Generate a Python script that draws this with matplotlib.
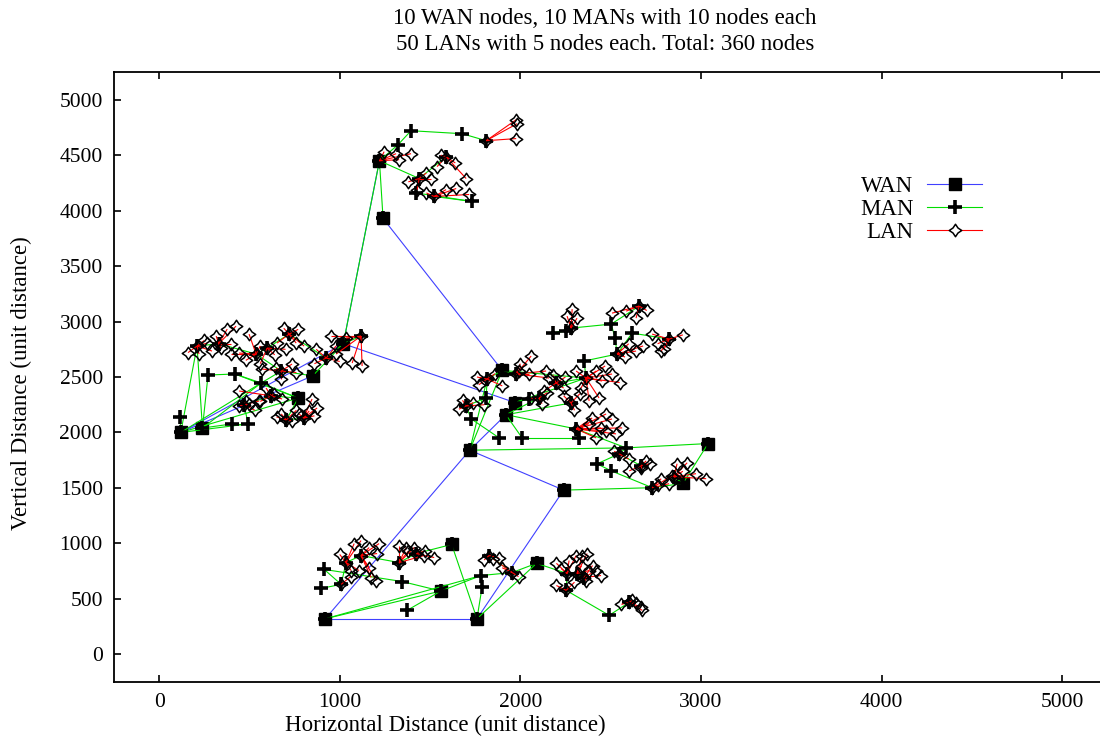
import matplotlib
matplotlib.use("Agg")
import matplotlib.pyplot as plt
from matplotlib.collections import LineCollection
from matplotlib.lines import Line2D
from matplotlib.path import Path

plt.rcParams["font.family"] = ["Liberation Serif", "DejaVu Serif"]

# -----------------------------
# WAN nodes (drawn as squares)
# -----------------------------
wan_ids = ["W0", "W1", "W2", "W3", "W4", "W5", "W6", "W7", "W8", "W9",
           "W10", "W11", "W12", "W13", "W14", "W15", "W16", "W17", "W18"]
wan_x = [120, 240, 850, 770, 1020, 1240, 1220, 1900, 1970, 1920,
         1720, 2240, 3040, 2900, 920, 1760, 1560, 1620, 2090]
wan_y = [2000, 2040, 2510, 2310, 2800, 3930, 4450, 2560, 2270, 2160,
         1840, 1480, 1900, 1540, 320, 320, 570, 990, 820]
wan_links = [("W0", "W2"), ("W0", "W4"), ("W4", "W6"), ("W4", "W8"), ("W5", "W7"),
             ("W9", "W10"), ("W10", "W14"), ("W10", "W11"), ("W11", "W15"),
             ("W14", "W15")]

# -----------------------------
# MAN nodes (drawn as plus)
# -----------------------------
man_ids = ["a1", "a2", "a3", "a4", "a5", "a6", "a7", "a8", "a9", "a10",
           "b1", "b2", "b3", "b4", "b5", "b6", "b7", "b8",
           "c1", "c2", "c3", "c4", "c5", "c6", "c7", "c8", "c9",
           "d1", "d2", "d3", "d4", "d5", "d6", "d7", "d8", "d9",
           "e1", "e2", "e3", "e4", "e5", "e6",
           "f1", "f2", "f3", "f4", "f5", "f6", "f7", "f8", "f9",
           "g1", "g2", "g3", "g4", "g5", "g6", "g7",
           "h1", "h2", "h3", "h4", "h5", "h6", "h7", "h8", "h9",
           "i1", "i2", "i3", "i4", "i5", "i6", "i7", "i8", "i9", "i10"]
man_x = [116, 271, 420, 404, 493, 565, 470, 705, 800, 620,
         210, 537, 598, 720, 676, 925, 1118, 330,
         1323, 1395, 1678, 1811, 1440, 1733, 1523, 1589, 1423,
         1700, 1811, 1816, 1728, 1883, 2010, 1977, 2104, 2049,
         2364, 2281, 2309, 2326, 2353, 2198,
         2182, 2254, 2503, 2525, 2536, 2658, 2619, 2824, 2281,
         2586, 2425, 2503, 2669, 2730, 2547, 2850,
         914, 897, 1008, 1035, 1118, 1345, 1329, 1373, 1423,
         1783, 1788, 1955, 2259, 2314, 2353, 2254, 2492, 2603, 1827]
man_y = [2140, 2518, 2527, 2077, 2077, 2446, 2250, 2113, 2130, 2330,
         2779, 2707, 2761, 2887, 2554, 2671, 2869, 2800,
         4595, 4721, 4694, 4631, 4290, 4083, 4128, 4487, 4160,
         2239, 2311, 2482, 2122, 1951, 1951, 2527, 2311, 2302,
         2491, 2266, 2032, 1951, 2644, 2446,
         2896, 2914, 2977, 2851, 2707, 3139, 2896, 2842, 2941,
         1861, 1717, 1654, 1699, 1502, 1807, 1600,
         765, 594, 630, 827, 890, 656, 827, 396, 908,
         710, 603, 737, 728, 728, 692, 576, 351, 468, 890]
man_links = [("a1", "W0"), ("W1", "a2"), ("W0", "b1"), ("W1", "b1"), ("a2", "a3"),
             ("a3", "W3"), ("a3", "a6"), ("W0", "a5"), ("W1", "a4"), ("a4", "a5"),
             ("a5", "a7"), ("W0", "W3"), ("W1", "a6"), ("a6", "W3"), ("a7", "a10"),
             ("a10", "W3"), ("W3", "a8"), ("a8", "a9"), ("W0", "a6"),
             ("b1", "b8"), ("b8", "b2"), ("b2", "b3"), ("b3", "b4"), ("b5", "W2"),
             ("b2", "b5"), ("W2", "W4"), ("b6", "W4"), ("b7", "W4"), ("b4", "b6"),
             ("a6", "b5"),
             ("W6", "c1"), ("c1", "c2"), ("c2", "c3"), ("c3", "c4"), ("W6", "c5"),
             ("c5", "c9"), ("c9", "c6"), ("c7", "c6"), ("c5", "c8"), ("W6", "W5"),
             ("W4", "W6"),
             ("W7", "e1"), ("W7", "d3"), ("d3", "d2"), ("d2", "d1"), ("d1", "d4"),
             ("d4", "d5"), ("d6", "e4"), ("W9", "e2"), ("W9", "e3"), ("W10", "d3"),
             ("W10", "W7"), ("W8", "e1"), ("W9", "d8"), ("d7", "W7"), ("e1", "e5"),
             ("e5", "f5"), ("f5", "f4"), ("f4", "f3"), ("f3", "f9"), ("f9", "f1"),
             ("f1", "f2"), ("f3", "f6"), ("f5", "f7"), ("f7", "f8"), ("e1", "e6"),
             ("e3", "e4"), ("W9", "d6"), ("d9", "W8"),
             ("W10", "g1"), ("g1", "W12"), ("W12", "W13"), ("W11", "g5"), ("g5", "W13"),
             ("g1", "g6"), ("g6", "g2"), ("g2", "g3"), ("g3", "g5"), ("g4", "g6"),
             ("W13", "g7"), ("e3", "g1"),
             ("W14", "W16"), ("W14", "i1"), ("h1", "h3"), ("h2", "h3"), ("h3", "h4"),
             ("h4", "h5"), ("h5", "h7"), ("h6", "W16"), ("h8", "W16"), ("W16", "i1"),
             ("W17", "h9"), ("W17", "W15"), ("h7", "h9"), ("W15", "W18"), ("i3", "W18"),
             ("i3", "i10"), ("i1", "i3"), ("i2", "i1"), ("W18", "i4"), ("i4", "i5"),
             ("i5", "i6"), ("i4", "i7"), ("i7", "i8"), ("i8", "i9"), ("W15", "i2"),
             ("h1", "h6")]

# ---------------------------------------
# LAN nodes (drawn as diamonds) and hubs
# ---------------------------------------
lan_x = [266, 221, 293, 160, 250,
         316, 377, 426, 343, 400,
         498, 443, 399, 480, 560,
         653, 759, 803, 690, 770,
         640, 560, 700,
         952, 1035, 1069, 1124, 980,
         870, 980, 1000, 860,
         570, 648, 736, 676, 760,
         592, 637, 443, 681, 560,
         443, 498, 482, 554, 530,
         676, 736, 650, 760,
         847, 875, 831, 775, 860,
         1246, 1329, 1395, 1312,
         1977, 1982, 1977,
         1539, 1700, 1640, 1560,
         1506, 1429, 1480, 1380,
         1589, 1717, 1645, 1480,
         1770, 1860, 1900, 1760,
         1680, 1740, 1800, 1660,
         2060, 1993, 2049, 2143, 2159, 2000,
         2132, 2250, 2180, 2240,
         2060, 2150, 2120,
         2420, 2508, 2453, 2436, 2381, 2337, 2309, 2470, 2550,
         2240, 2330, 2300,
         2398, 2475, 2508, 2564, 2530, 2420, 2447, 2475, 2380,
         2287, 2314, 2259,
         2508, 2586, 2641, 2700,
         2730, 2780, 2796, 2900, 2760,
         2641, 2564, 2600, 2680, 2580,
         2520, 2600,
         2697, 2603, 2669, 2720,
         2780, 2824, 2841, 2760,
         2868, 2924, 2973, 3029, 2900,
         1080, 1118, 1063, 1107, 1000,
         1163, 1218, 1207, 1163, 1202, 1174,
         1060,
         1329, 1368, 1412, 1467, 1380,
         1523, 1470,
         1900, 1850, 1990,
         1800, 1880,
         2226, 2270, 2309, 2200,
         2342, 2370, 2381, 2340,
         2420, 2447, 2364, 2400,
         2300, 2200,
         2560, 2619, 2669, 2675, 2640]
lan_y = [2806, 2707, 2734, 2720, 2830,
         2869, 2932, 2959, 2760, 2800,
         2887, 2716, 2707, 2650, 2780,
         2806, 2806, 2779, 2940, 2930,
         2700, 2620, 2750,
         2869, 2851, 2626, 2599, 2707,
         2750, 2780, 2640, 2620,
         2572, 2581, 2617, 2482, 2540,
         2401, 2347, 2374, 2302, 2280,
         2239, 2257, 2284, 2284, 2200,
         2167, 2104, 2140, 2200,
         2302, 2221, 2194, 2167, 2150,
         4532, 4460, 4514, 4514,
         4650, 4784, 4820,
         4397, 4290, 4430, 4500,
         4290, 4190, 4340, 4260,
         4190, 4146, 4200, 4160,
         2430, 2530, 2420, 2500,
         2290, 2270, 2250, 2210,
         2689, 2554, 2527, 2554, 2491, 2620,
         2374, 2500, 2520, 2400,
         2311, 2360, 2260,
         2554, 2527, 2464, 2311, 2284, 2401, 2554, 2600, 2450,
         2330, 2350, 2200,
         2131, 2167, 2122, 2041, 1987, 1951, 2041, 2014, 2080,
         3112, 3031, 3049,
         3076, 3094, 3031, 3100,
         2887, 2734, 2752, 2880, 2800,
         2734, 2752, 2800, 2780, 2680,
         1830, 1760,
         1744, 1654, 1681, 1720,
         1583, 1538, 1610, 1530,
         1718, 1727, 1628, 1583, 1650,
         998, 1025, 755, 755, 900,
         962, 998, 908, 782, 665, 692,
         700,
         980, 962, 962, 890, 930,
         872, 930,
         780, 860, 700,
         850, 870,
         773, 845, 890, 820,
         890, 908, 755, 800,
         755, 710, 665, 800,
         650, 620,
         450, 486, 423, 396, 460]
lan_hub = ["b1"] * 5 + ["b8"] * 5 + ["b2"] * 5 + ["b4"] * 5 + ["b3"] * 3 \
    + ["b7"] * 5 + ["b6"] * 4 + ["b5"] * 5 + ["a10"] * 5 + ["a7"] * 5 \
    + ["a8"] * 4 + ["a9"] * 5 \
    + ["W6"] * 4 + ["c4"] * 3 + ["c8"] * 4 + ["c5"] * 4 + ["c7"] * 4 \
    + ["d3"] * 4 + ["d1"] * 4 + ["d7"] * 6 + ["e6"] * 4 + ["d8"] * 3 \
    + ["e1"] * 9 + ["e2"] * 3 + ["e3"] * 9 + ["f9"] * 3 + ["f6"] * 4 \
    + ["f8"] * 5 + ["f5"] * 5 \
    + ["g6"] * 2 + ["g4"] * 4 + ["g5"] * 4 + ["g7"] * 5 \
    + ["h4"] * 5 + ["h5"] * 6 + ["h3"] * 1 + ["h7"] * 5 + ["h9"] * 2 \
    + ["i3"] * 3 + ["i10"] * 2 + ["i4"] * 4 + ["i5"] * 4 + ["i6"] * 4 \
    + ["i7"] * 2 + ["i9"] * 5

title_lines = ["10 WAN nodes, 10 MANs with 10 nodes each",
               "50 LANs with 5 nodes each. Total: 360 nodes"]

# ------
# STYLE
# ------
WAN_COLOR = "#4040ff"
MAN_COLOR = "#00dd00"
LAN_COLOR = "#ff0000"
diamond = Path([(0, 1), (0.4, 0.4), (1, 0), (0.4, -0.4), (0, -1),
                (-0.4, -0.4), (-1, 0), (-0.4, 0.4), (0, 1)],
               [Path.MOVETO] + [Path.LINETO] * 7 + [Path.CLOSEPOLY])

pos = {}
for n, x, y in zip(wan_ids, wan_x, wan_y):
    pos[n] = (x, y)
for n, x, y in zip(man_ids, man_x, man_y):
    pos[n] = (x, y)

fig = plt.figure(figsize=(11, 7.42), dpi=100)
ax = fig.add_axes([0.1036, 0.0809, 0.903, 0.822])

# WAN
ax.add_collection(LineCollection([[pos[a], pos[b]] for a, b in wan_links],
                                 colors=WAN_COLOR, linewidths=0.8, zorder=2))
ax.plot(wan_x, wan_y, ls="none", marker="s", ms=8.5, color="black", zorder=3)

# MAN
ax.add_collection(LineCollection([[pos[a], pos[b]] for a, b in man_links],
                                 colors=MAN_COLOR, linewidths=0.8, zorder=4))
man_pts = set(n for link in man_links for n in link)
ax.plot([pos[n][0] for n in man_pts], [pos[n][1] for n in man_pts],
        ls="none", marker="+", ms=10, mew=2.6, color="black", zorder=5)

# LAN
ax.add_collection(LineCollection([[(x, y), pos[h]] for x, y, h in zip(lan_x, lan_y, lan_hub)],
                                 colors=LAN_COLOR, linewidths=0.8, zorder=6))
hubs = sorted(set(lan_hub))
ax.plot(lan_x + [pos[h][0] for h in hubs], lan_y + [pos[h][1] for h in hubs],
        ls="none", marker=diamond, ms=9, mew=1.1, mfc="none", mec="black", zorder=7)

ax.set_xlim(-250, 5250)
ax.set_ylim(-250, 5250)
ax.set_xticks(range(0, 5001, 1000))
ax.set_yticks(range(0, 5001, 500))
ax.tick_params(direction="in", length=5, width=1.2, labelsize=15.5,
               top=True, right=True)
ax.tick_params(axis="y", pad=8)
ax.tick_params(axis="x", pad=8)
for s in ax.spines.values():
    s.set_linewidth(1.3)

fig.text(605 / 1100, 1 - 18 / 742, title_lines[0], fontsize=16.5, ha="center", va="center")
fig.text(605 / 1100, 1 - 45 / 742, title_lines[1], fontsize=16.5, ha="center", va="center")
fig.text(445 / 1100, 17 / 742, "Horizontal Distance (unit distance)", fontsize=16.5,
         ha="center", va="center")
fig.text(21 / 1100, 1 - 383 / 742, "Vertical Distance (unit distance)", fontsize=16.5,
         ha="center", va="center", rotation=90)

handles = [
    Line2D([], [], color=WAN_COLOR, lw=0.8, marker="s", ms=8.5, mfc="black", mec="black"),
    Line2D([], [], color=MAN_COLOR, lw=0.8, marker="+", ms=10, mew=2.6, mec="black"),
    Line2D([], [], color=LAN_COLOR, lw=0.8, marker=diamond, ms=9, mew=1.1, mfc="white", mec="black"),
]
ax.legend(handles, ["WAN", "MAN", "LAN"], loc="upper right", bbox_to_anchor=(0.874, 0.83),
          markerfirst=False, frameon=False, fontsize=16.5, handlelength=2.4,
          handletextpad=0.6, labelspacing=0.1, borderpad=0, borderaxespad=0, numpoints=1)

fig.savefig("out.png", dpi=100)
